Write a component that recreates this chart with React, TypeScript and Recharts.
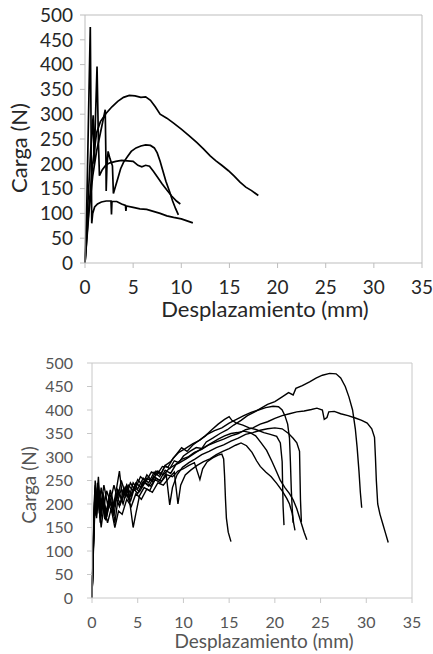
import { LineChart, Line, XAxis, YAxis, ReferenceLine, Label } from "recharts";

type Pt = [number, number];

const xTicks = [0, 5, 10, 15, 20, 25, 30, 35];
const yTicks = [0, 50, 100, 150, 200, 250, 300, 350, 400, 450, 500];
const xTitle = "Desplazamiento (mm)";
const yTitle = "Carga (N)";

// top panel: displacement (mm), load (N)
const topA: Pt[] = [[0,0],[0.4,110],[0.8,200],[1.2,262],[1.6,285],[2.2,302],[2.8,315],[3.4,326],[4,334],[4.6,338],[5.2,337],[5.8,334],[6.3,335],[6.8,328],[7.3,315],[7.8,300],[8.5,292],[9.2,282],[10,270],[10.8,257],[11.6,243],[12.3,230],[13,216],[13.6,206],[14.2,197],[14.9,186],[15.5,175],[16.1,163],[16.7,153],[17.3,146],[18,136]];
const topB: Pt[] = [[0,0],[0.2,130],[0.4,330],[0.55,476],[0.62,300],[0.7,80],[0.8,100],[1,113],[1.3,119],[1.7,123],[2.2,125],[2.7,125],[2.75,98],[2.8,124],[3.3,124],[3.8,119],[4.2,116],[4.25,105],[4.3,115],[5,112],[5.7,109],[6.4,108],[7.1,104],[7.8,100],[8.5,95],[9.2,92],[10,89],[10.6,85],[11.2,81]];
const topC: Pt[] = [[0,0],[0.3,120],[0.6,230],[0.85,298],[0.95,200],[1.1,300],[1.25,396],[1.4,240],[1.5,176],[1.8,188],[2.2,198],[2.6,202],[3.2,205],[3.8,207],[4.4,206],[5,205],[5.5,197],[5.9,194],[6.3,197],[6.7,195],[7.1,185],[7.5,174],[8,160],[8.5,147],[9,135],[9.5,125],[9.9,119]];
const topD: Pt[] = [[0,0],[0.4,100],[0.8,175],[1.2,225],[1.6,262],[1.9,290],[2.1,309],[2.18,200],[2.2,145],[2.28,195],[2.4,225],[2.6,210],[2.85,196],[2.95,140],[3.1,150],[3.4,170],[3.7,190],[4,203],[4.4,214],[4.8,225],[5.3,232],[5.8,236],[6.3,238],[6.8,237],[7.2,232],[7.5,222],[7.8,205],[8.1,185],[8.4,165],[8.8,143],[9.1,125],[9.4,110],[9.7,97]];

// bottom panel
const botA: Pt[] = [[0,0],[0.15,120],[0.3,228],[0.45,190],[0.6,245],[0.8,200],[1,235],[1.3,195],[1.6,228],[2,205],[2.4,240],[2.8,212],[3.2,250],[3.6,225],[4,240],[4.5,228],[5,252],[5.5,240],[6,262],[6.5,250],[7,270],[7.5,262],[8,282],[8.5,275],[9,292],[9.5,288],[10,302],[10.7,312],[11.4,320],[12,318],[12.5,332],[13.2,340],[14,350],[14.8,358],[15.5,368],[16.3,378],[17,388],[17.8,396],[18.5,404],[19.2,412],[20,418],[20.8,428],[21.5,437],[22,432],[22.3,446],[23,452],[23.8,460],[24.5,468],[25.2,474],[26,478],[26.7,477],[27.2,468],[27.7,450],[28.1,428],[28.5,400],[28.8,360],[29,320],[29.2,270],[29.35,225],[29.5,192]];
const botB: Pt[] = [[0,0],[0.2,160],[0.35,235],[0.5,200],[0.7,258],[0.9,185],[1.2,225],[1.5,175],[1.9,215],[2.3,190],[2.7,235],[3,270],[3.3,220],[3.8,240],[4.2,205],[4.6,232],[5,222],[5.6,248],[6.2,238],[6.8,258],[7.4,250],[8,272],[8.6,265],[9.2,285],[9.8,295],[10.5,300],[11.2,310],[12,316],[12.8,326],[13.6,332],[14.4,338],[15.2,345],[16,350],[16.8,358],[17.6,362],[18.4,370],[19.2,375],[20,382],[20.8,388],[21.6,392],[22.4,396],[23.2,398],[24,401],[24.6,404],[25.2,400],[25.4,380],[25.7,384],[25.9,396],[26.5,397],[27.2,392],[28,388],[28.8,383],[29.5,378],[30.1,372],[30.6,360],[30.9,342],[31,300],[31.1,250],[31.25,200],[31.5,178],[31.8,158],[32.1,138],[32.4,118]];
const botC: Pt[] = [[0,0],[0.2,140],[0.35,220],[0.5,178],[0.75,230],[1,200],[1.3,240],[1.7,200],[2.1,222],[2.5,160],[2.8,205],[3.2,232],[3.7,215],[4.2,245],[4.7,230],[5.3,258],[5.9,248],[6.5,268],[7.1,262],[7.7,280],[8.3,278],[8.9,298],[9.5,310],[10.2,318],[11,328],[11.8,336],[12.6,348],[13.4,356],[14.2,362],[15,372],[15.8,380],[16.6,388],[17.4,395],[18.2,400],[19,405],[19.8,408],[20.4,407],[20.8,400],[21.1,388],[21.4,370],[21.6,340],[21.7,290],[21.8,230],[21.9,190],[22,160]];
const botD: Pt[] = [[0,0],[0.2,150],[0.35,240],[0.5,210],[0.7,225],[0.9,170],[1.2,205],[1.6,185],[2,230],[2.4,198],[2.9,228],[3.4,200],[3.9,238],[4.5,150],[4.8,180],[5.2,218],[5.7,235],[6.3,228],[6.9,252],[7.5,245],[8.1,265],[8.5,198],[8.8,235],[9.3,262],[9.9,278],[10.6,288],[11.3,296],[12,305],[12.8,312],[13.6,320],[14.4,326],[15.2,334],[16,340],[16.8,348],[17.6,352],[18.4,357],[19.2,360],[20,362],[20.8,360],[21.5,350],[22,340],[22.4,330],[22.7,312],[22.75,260],[22.8,210],[22.9,162]];
const botE: Pt[] = [[0,0],[0.15,110],[0.3,215],[0.45,175],[0.6,235],[0.8,180],[1.1,212],[1.4,168],[1.8,200],[2.2,182],[2.6,215],[3,195],[3.5,235],[4,210],[4.5,245],[5,232],[5.6,255],[6.2,245],[6.8,268],[7.4,258],[8,282],[8.6,290],[9.2,305],[9.8,320],[10.4,312],[11,325],[11.7,335],[12.4,345],[13.1,358],[13.8,370],[14.5,380],[15,386],[15.3,378],[15.8,372],[16.5,368],[17.2,362],[18,358],[18.8,352],[19.5,348],[20.2,344],[20.6,330],[20.8,290],[20.85,240],[20.9,195],[21,155]];
const botF: Pt[] = [[0,0],[0.2,170],[0.35,250],[0.5,205],[0.7,240],[0.95,180],[1.25,220],[1.6,172],[2,210],[2.4,175],[2.8,230],[3.3,208],[3.8,240],[4.3,218],[4.8,245],[5.4,235],[6,255],[6.6,248],[7.2,270],[7.8,262],[8.4,275],[9,282],[9.6,288],[10.3,296],[11,305],[11.7,314],[12.4,322],[13.1,330],[13.8,338],[14.5,345],[15.2,350],[15.9,352],[16.6,355],[17.3,352],[17.9,345],[18.5,330],[19.1,314],[19.7,290],[20.2,268],[20.6,250],[21.1,235],[21.6,222],[22,209],[22.4,190],[22.8,165],[23.2,140],[23.5,124]];
const botG: Pt[] = [[0,0],[0.2,130],[0.35,205],[0.5,170],[0.7,215],[1,150],[1.3,195],[1.7,160],[2.1,190],[2.5,150],[2.9,185],[3.3,178],[3.8,210],[4.3,195],[4.8,222],[5.4,210],[6,232],[6.6,225],[7.2,245],[7.8,240],[8.4,255],[9,268],[9.4,200],[9.7,240],[10.2,262],[10.8,272],[11.5,282],[12.2,290],[12.9,296],[13.6,305],[14.3,312],[15,318],[15.7,325],[16.3,330],[16.9,324],[17.5,310],[18,292],[18.4,280],[19,268],[19.6,258],[20.2,244],[20.8,228],[21.3,212],[21.6,200],[21.9,180],[22.05,160],[22.2,144]];
const botH: Pt[] = [[0,0],[0.2,145],[0.35,225],[0.5,185],[0.7,225],[0.9,160],[1.2,200],[1.5,165],[1.9,205],[2.3,185],[2.7,218],[3.1,200],[3.6,228],[4.1,212],[4.6,236],[5.2,226],[5.8,246],[6.4,238],[7,255],[7.6,248],[8.2,262],[8.8,258],[9.4,270],[10,275],[10.6,282],[11.2,288],[11.8,252],[12.1,275],[12.6,290],[13.2,298],[13.8,304],[14.2,306],[14.4,296],[14.5,260],[14.6,210],[14.7,170],[14.9,140],[15.2,120]];

const topSeries = [topA, topB, topC, topD];
const botSeries = [botA, botB, botC, botD, botE, botF, botG, botH];

const toRows = (pts: Pt[]) => pts.map(([x, y]) => ({ x, y }));

type PanelProps = {
  series: Pt[][];
  height: number;
  margin: { top: number; right: number; bottom: number; left: number };
  yWidth: number;
  xHeight: number;
  tickSize: number;
  titleSize: number;
  textColor: string;
  axisColor: string;
  lineWidth: number;
  yTickMargin: number;
  xTickMargin: number;
  xTitleAt: [number, number];
  yTitleAt: [number, number];
};

function Panel(p: PanelProps) {
  const tick = { fill: p.textColor, fontSize: p.tickSize, fontFamily: "Lato" };
  const titleStyle = { fill: p.textColor, fontSize: p.titleSize, fontFamily: "Lato" };
  return (
    <LineChart width={433} height={p.height} margin={p.margin}>
      <ReferenceLine y={500} stroke={p.axisColor} strokeWidth={1} />
      <ReferenceLine x={35} stroke={p.axisColor} strokeWidth={1} />
      <XAxis
        type="number"
        dataKey="x"
        domain={[0, 35]}
        ticks={xTicks}
        interval={0}
        height={p.xHeight}
        tick={tick}
        tickSize={5}
        tickMargin={p.xTickMargin}
        axisLine={{ stroke: p.axisColor }}
        tickLine={{ stroke: p.axisColor }}
        label={
          <Label
            content={() => (
              <text x={p.xTitleAt[0]} y={p.xTitleAt[1]} textAnchor="middle" style={titleStyle}>
                {xTitle}
              </text>
            )}
          />
        }
      />
      <YAxis
        type="number"
        domain={[0, 500]}
        ticks={yTicks}
        interval={0}
        width={p.yWidth}
        tick={tick}
        tickSize={5}
        tickMargin={p.yTickMargin}
        axisLine={{ stroke: p.axisColor }}
        tickLine={{ stroke: p.axisColor }}
        label={
          <Label
            content={() => (
              <text
                transform={`translate(${p.yTitleAt[0]},${p.yTitleAt[1]}) rotate(-90)`}
                textAnchor="middle"
                dominantBaseline="central"
                style={titleStyle}
              >
                {yTitle}
              </text>
            )}
          />
        }
      />
      {p.series.map((s, i) => (
        <Line
          key={i}
          data={toRows(s)}
          dataKey="y"
          type="linear"
          stroke="#000"
          strokeWidth={p.lineWidth}
          dot={false}
          activeDot={false}
          isAnimationActive={false}
        />
      ))}
    </LineChart>
  );
}

export default function App() {
  return (
    <div style={{ position: "absolute", left: 0, top: 0, width: 433, height: 654, background: "#fff" }}>
      <div style={{ position: "absolute", left: 0, top: 0 }}>
        <Panel
          series={topSeries}
          height={325}
          margin={{ top: 15, right: 11, bottom: 17, left: 0 }}
          yWidth={85}
          xHeight={45}
          tickSize={19}
          titleSize={22}
          textColor="#262626"
          axisColor="#bdbdbd"
          lineWidth={1.7}
          yTickMargin={7}
          xTickMargin={13}
          xTitleAt={[265, 317]}
          yTitleAt={[18, 148]}
        />
      </div>
      <div style={{ position: "absolute", left: 0, top: 325 }}>
        <Panel
          series={botSeries}
          height={329}
          margin={{ top: 38, right: 21, bottom: 16, left: 0 }}
          yWidth={92}
          xHeight={40}
          tickSize={16}
          titleSize={19}
          textColor="#555"
          axisColor="#c8c8c8"
          lineWidth={1.4}
          yTickMargin={14}
          xTickMargin={14}
          xTitleAt={[264, 323]}
          yTitleAt={[28, 160]}
        />
      </div>
    </div>
  );
}
